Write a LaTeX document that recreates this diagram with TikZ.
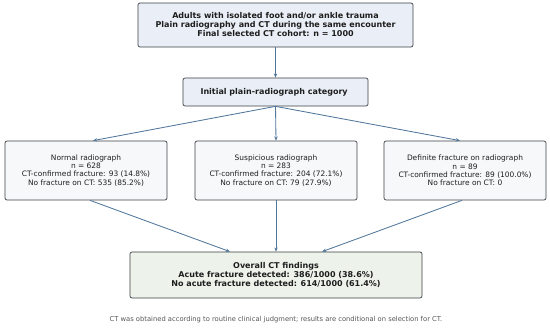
\documentclass[tikz,border=0pt]{standalone}
\usepackage{fontspec}
\setmainfont{DejaVu Sans}
\usepackage{xcolor}
\usepackage{tikz}
\usetikzlibrary{positioning,arrows.meta,calc}
\definecolor{flowline}{RGB}{80,118,155}
\definecolor{frameline}{RGB}{60,64,70}
\definecolor{cohortfill}{RGB}{234,239,247}
\definecolor{groupfill}{RGB}{247,248,250}
\definecolor{resultfill}{RGB}{237,243,235}
\definecolor{notegray}{RGB}{85,85,85}
\definecolor{inktext}{RGB}{30,30,30}

\begin{document}
\begin{tikzpicture}[
    x=0.025cm,y=-0.025cm,
    box/.style={draw=frameline,line width=0.5pt,rounded corners=1.5pt,inner sep=0pt,align=center,text=inktext},
    headbox/.style={box,fill=cohortfill,font=\fontsize{5.7}{6.4}\selectfont\bfseries},
    groupbox/.style={box,fill=groupfill,minimum width=4.05cm,minimum height=1.475cm,font=\fontsize{5.3}{5.9}\selectfont},
    arrow/.style={-{Stealth[length=3pt,width=2.4pt]},line width=0.6pt,color=flowline}
  ]
    \useasboundingbox (0,0) rectangle (550,328);
    \node[headbox,minimum width=6.875cm,minimum height=1.1cm] (cohort) at (275.5,25) {
      Adults with isolated foot and/or ankle trauma\\
      Plain radiography and CT during the same encounter\\
      Final selected CT cohort: n = 1000
    };
    \node[headbox,minimum width=4.625cm,minimum height=0.7cm] (category) at (275.5,92) {
      Initial plain-radiograph category
    };
    \node[groupbox] (normal) at (86,170.5) {
      Normal radiograph\\
      n = 628\\
      CT-confirmed fracture: 93 (14.8\%)\\
      No fracture on CT: 535 (85.2\%)
    };
    \node[groupbox] (suspicious) at (276,170.5) {
      Suspicious radiograph\\
      n = 283\\
      CT-confirmed fracture: 204 (72.1\%)\\
      No fracture on CT: 79 (27.9\%)
    };
    \node[groupbox] (definite) at (465,170.5) {
      Definite fracture on radiograph\\
      n = 89\\
      CT-confirmed fracture: 89 (100.0\%)\\
      No fracture on CT: 0
    };
    \node[headbox,fill=resultfill,minimum width=7.3cm,minimum height=1.15cm] (overall) at (276,275) {
      Overall CT findings\\
      Acute fracture detected: 386/1000 (38.6\%)\\
      No acute fracture detected: 614/1000 (61.4\%)
    };
    \node[font=\fontsize{4.8}{5.8}\selectfont,text=notegray] (note) at (276,320) {
      CT was obtained according to routine clinical judgment; results are conditional on selection for CT.
    };
    % connectors
    \draw[arrow] (cohort) -- (category);
    \draw[arrow] (category.south) -- ($(normal.north)+(7,0)$);
    \draw[arrow] (category.south) -- (suspicious.north);
    \draw[arrow] (category.south) -- ($(definite.north)+(-5,0)$);
    \draw[arrow] ($(normal.south)+(4,0)$) -- ($(overall.north)+(-46,0)$);
    \draw[arrow] (suspicious.south) -- (overall.north);
    \draw[arrow] ($(definite.south)+(-3,0)$) -- ($(overall.north)+(46,0)$);
  \end{tikzpicture}
\end{document}
